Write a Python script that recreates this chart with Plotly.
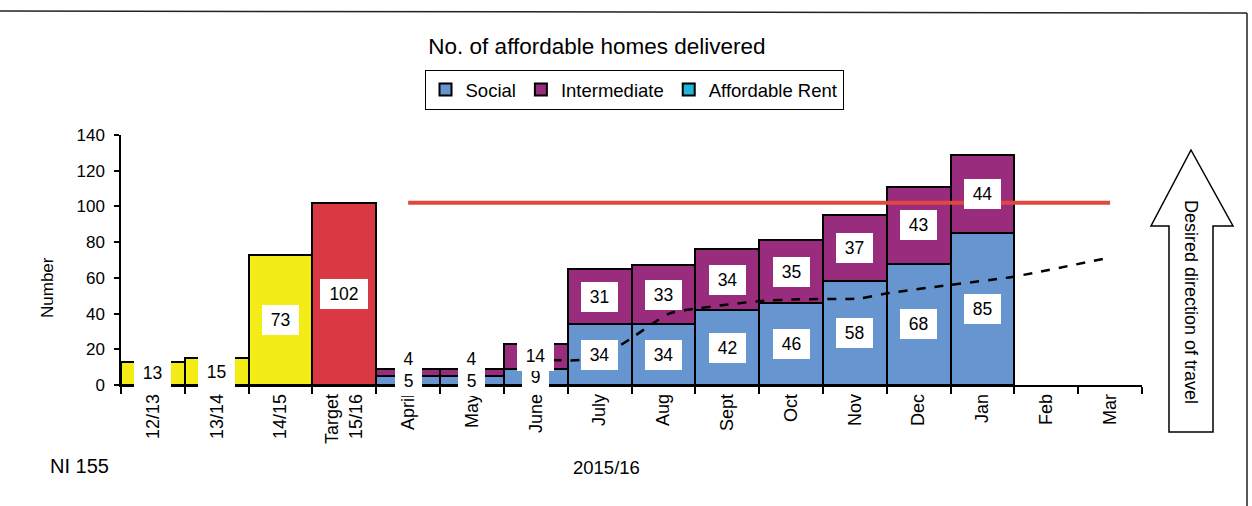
import plotly.graph_objects as go

# ---- data -------------------------------------------------------------
categories = ["12/13", "13/14", "14/15", "Target<br>15/16", "April", "May",
              "June", "July", "Aug", "Sept", "Oct", "Nov", "Dec", "Jan",
              "Feb", "Mar"]

annual_periods = ["12/13", "13/14", "14/15"]
annual_delivered = [13, 15, 73]

target_period = ["Target<br>15/16"]
target_delivered = [102]

months = ["April", "May", "June", "July", "Aug", "Sept", "Oct", "Nov", "Dec", "Jan"]
social = [5, 5, 9, 34, 34, 42, 46, 58, 68, 85]
intermediate = [4, 4, 14, 31, 33, 34, 35, 37, 43, 44]
affordable_rent = [0, 0, 0, 0, 0, 0, 0, 0, 0, 0]

target_line_months = ["April", "Mar"]
target_line_values = [102, 102]

# trend line, positions in category units
trend_pos = [6.26, 6.69, 7.31, 8.09, 8.56, 9.50, 10.13, 11.07, 11.54, 12.48, 13.46, 14.94]
trend_values = [14, 14, 22, 40, 43, 47, 48, 48.5, 51.5, 56, 60.5, 71]

# ---- styling ----------------------------------------------------------
FONT = "Liberation Sans, Arial, sans-serif"
W, H = 1252, 506
ML, MR, MT, MB = 121, 110, 135, 121
PW, PH = W - ML - MR, H - MT - MB

C_SOCIAL = "#6795cf"
C_INTER = "#9a2c7e"
C_RENT = "#22b5d6"
C_YELLOW = "#f3ec16"
C_RED = "#da3943"
C_TARGET = "#e2473f"

pos = {c: i for i, c in enumerate(categories)}


def px_x(px):
    return (px - ML) / PW


def px_y(py):
    return (H - MB - py) / PH


outline = dict(color="black", width=2)

fig = go.Figure()

fig.add_trace(go.Bar(
    x=[pos[m] for m in months], y=affordable_rent, name="Affordable Rent",
    marker=dict(color=C_RENT, line=outline), legendrank=3, width=1,
))
fig.add_trace(go.Bar(
    x=[pos[m] for m in months], y=social, name="Social",
    marker=dict(color=C_SOCIAL, line=outline), legendrank=1, width=1,
))
fig.add_trace(go.Bar(
    x=[pos[m] for m in months], y=intermediate, name="Intermediate",
    marker=dict(color=C_INTER, line=outline), legendrank=2, width=1,
))
fig.add_trace(go.Bar(
    x=[pos[p] for p in annual_periods], y=annual_delivered, showlegend=False,
    marker=dict(color=C_YELLOW, line=outline), width=1,
))
fig.add_trace(go.Bar(
    x=[pos[p] for p in target_period], y=target_delivered, showlegend=False,
    marker=dict(color=C_RED, line=outline), width=1,
))

fig.add_trace(go.Scatter(
    x=trend_pos, y=trend_values, mode="lines", showlegend=False,
    line=dict(color="black", width=2.5, dash="dash", shape="spline", smoothing=0.6),
))
fig.add_trace(go.Scatter(
    x=[pos[m] for m in target_line_months], y=target_line_values, mode="lines",
    showlegend=False, line=dict(color=C_TARGET, width=4),
))

# ---- data labels in white boxes ---------------------------------------
annotations = []


def label(x, y, value, yshift=0):
    n = len(str(value))
    annotations.append(dict(
        x=x, y=y, xref="x", yref="y", text=str(value), showarrow=False,
        font=dict(family=FONT, size=17.5, color="black"),
        bgcolor="white", borderpad=0, borderwidth=0,
        width={1: 27, 2: 37, 3: 48}[n], height=30, yshift=yshift,
    ))


for p, v in zip(annual_periods, annual_delivered):
    label(pos[p], v / 2, v)
for p, v in zip(target_period, target_delivered):
    label(pos[p], v / 2, v)
for m, s, i in zip(months, social, intermediate):
    lower = s / 2
    upper = max(s + i / 2, lower + 12)
    label(pos[m], lower, s)
    label(pos[m], upper, i)

# ---- free text --------------------------------------------------------
annotations += [
    dict(text="Number", x=px_x(47), y=px_y(288), xref="paper", yref="paper",
         xanchor="center", yanchor="middle", textangle=-90, showarrow=False,
         font=dict(family=FONT, size=17, color="black")),
    dict(text="NI 155", x=px_x(48), y=px_y(466), xref="paper", yref="paper",
         xanchor="left", yanchor="middle", showarrow=False,
         font=dict(family=FONT, size=20, color="black")),
    dict(text="2015/16", x=px_x(606), y=px_y(467), xref="paper", yref="paper",
         xanchor="center", yanchor="middle", showarrow=False,
         font=dict(family=FONT, size=18.5, color="black")),
    dict(text="Desired direction of travel", x=px_x(1191), y=px_y(302),
         xref="paper", yref="paper", xanchor="center", yanchor="middle",
         textangle=90, showarrow=False,
         font=dict(family=FONT, size=18, color="black")),
]

# ---- arrow and page frame ---------------------------------------------
arrow_pts = [(1191, 150), (1233, 226), (1213, 226), (1213, 432),
             (1169, 432), (1169, 226), (1151, 226)]
path = "M " + " L ".join(f"{px_x(a):.5f},{px_y(b):.5f}" for a, b in arrow_pts) + " Z"

shapes = [
    dict(type="path", path=path, xref="paper", yref="paper",
         line=dict(color="black", width=1.5), fillcolor="white", layer="below"),
    dict(type="line", xref="paper", yref="paper",
         x0=px_x(0), y0=px_y(11), x1=px_x(1247), y1=px_y(13),
         line=dict(color="#222", width=1.5)),
    dict(type="line", xref="paper", yref="paper",
         x0=px_x(1247), y0=px_y(13), x1=px_x(1247), y1=px_y(506),
         line=dict(color="#222", width=1.5)),
]

fig.update_layout(
    width=W, height=H,
    margin=dict(l=ML, r=MR, t=MT, b=MB, pad=0),
    paper_bgcolor="white", plot_bgcolor="white",
    barmode="stack", bargap=0,
    font=dict(family=FONT, color="black"),
    title=dict(text="No. of affordable homes delivered", x=597 / W, xanchor="center",
               y=1 - 46 / H, yanchor="middle",
               font=dict(family=FONT, size=22.5, color="black")),
    legend=dict(orientation="h", x=px_x(634), xanchor="center", y=px_y(70), yanchor="top",
                bordercolor="black", borderwidth=1, bgcolor="white",
                font=dict(family=FONT, size=18.5, color="black"),
                itemwidth=30, traceorder="normal"),
    xaxis=dict(range=[-0.5, 15.5], tickmode="array", tickvals=list(range(len(categories))),
               ticktext=categories, tickangle=-90, ticks="", showgrid=False, zeroline=False,
               showline=True, linecolor="black", linewidth=1.5,
               tickfont=dict(family=FONT, size=18, color="black"),
               minor=dict(tickmode="array", tickvals=[i - 0.5 for i in range(len(categories) + 1)],
                          ticks="outside", ticklen=7, tickcolor="black", tickwidth=1.5,
                          showgrid=False)),
    yaxis=dict(range=[0, 140], tickmode="array", tickvals=list(range(0, 141, 20)),
               ticks="outside", ticklen=5, tickcolor="black", tickwidth=1.5,
               showgrid=False, zeroline=False, showline=True, linecolor="black", linewidth=1.5,
               tickfont=dict(family=FONT, size=17, color="black"), ticklabelstandoff=6),
    annotations=annotations,
    shapes=shapes,
)

fig.write_html("out.html")
